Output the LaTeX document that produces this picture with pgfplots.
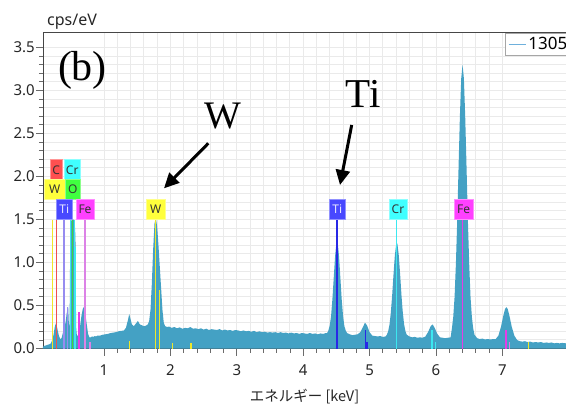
\documentclass[border=0pt]{standalone}
\usepackage{fontspec}
\setmainfont{Noto Sans}
\newfontfamily\serifann{Liberation Serif}
\newfontfamily\jp{Noto Sans CJK JP}
\usepackage{pgfplots}
\usepackage{pgfplotstable}
\pgfplotsset{compat=1.18}
\usetikzlibrary{arrows.meta}

\definecolor{spec}{RGB}{68,161,196}
\definecolor{legline}{RGB}{110,176,220}
\definecolor{gridc}{RGB}{234,234,234}
\definecolor{axc}{RGB}{70,70,70}
% marker lines
\definecolor{myel}{RGB}{240,232,40}
\definecolor{mred}{RGB}{240,80,80}
\definecolor{mlav}{RGB}{150,140,240}
\definecolor{mcyan}{RGB}{60,232,240}
\definecolor{mgreen}{RGB}{60,220,60}
\definecolor{mmag}{RGB}{230,60,230}
\definecolor{mpink}{RGB}{220,130,230}
\definecolor{mblue}{RGB}{40,40,230}
% label boxes
\definecolor{byel}{RGB}{255,255,60}
\definecolor{bred}{RGB}{255,80,80}
\definecolor{bcyan}{RGB}{64,255,255}
\definecolor{bgreen}{RGB}{64,255,64}
\definecolor{bblue}{RGB}{72,72,255}
\definecolor{bmag}{RGB}{255,64,255}

\pgfplotstableread{
E cps
0.08 0.02
0.10 0.03
0.12 0.035
0.14 0.04
0.16 0.045
0.18 0.05
0.20 0.06
0.22 0.10
0.24 0.16
0.26 0.26
0.28 0.30
0.30 0.22
0.32 0.15
0.34 0.11
0.36 0.12
0.38 0.18
0.40 0.24
0.42 0.30
0.44 0.42
0.46 0.49
0.47 0.30
0.48 0.25
0.485 0.60
0.49 1.20
0.50 1.45
0.51 1.50
0.52 1.52
0.53 1.50
0.54 1.50
0.55 1.48
0.56 1.45
0.57 1.30
0.575 0.70
0.58 0.25
0.59 0.16
0.60 0.14
0.62 0.18
0.64 0.26
0.66 0.38
0.68 0.46
0.70 0.49
0.72 0.40
0.74 0.28
0.76 0.17
0.78 0.13
0.80 0.13
0.82 0.14
0.84 0.135
0.86 0.145
0.88 0.14
0.90 0.15
0.94 0.15
0.98 0.16
1.02 0.165
1.06 0.17
1.10 0.18
1.14 0.185
1.18 0.19
1.22 0.20
1.26 0.205
1.30 0.21
1.33 0.24
1.36 0.33
1.38 0.40
1.40 0.34
1.42 0.28
1.45 0.26
1.48 0.29
1.51 0.32
1.54 0.28
1.57 0.27
1.60 0.26
1.63 0.265
1.66 0.28
1.68 0.32
1.70 0.45
1.72 0.75
1.74 1.15
1.76 1.45
1.78 1.52
1.80 1.42
1.82 1.20
1.84 0.95
1.86 0.70
1.88 0.45
1.90 0.30
1.92 0.26
1.95 0.25
1.98 0.255
2.02 0.24
2.06 0.25
2.10 0.235
2.14 0.245
2.18 0.23
2.22 0.24
2.26 0.235
2.30 0.25
2.34 0.23
2.38 0.235
2.42 0.225
2.46 0.235
2.50 0.22
2.54 0.23
2.58 0.215
2.62 0.225
2.66 0.22
2.70 0.215
2.74 0.225
2.78 0.21
2.82 0.22
2.86 0.21
2.90 0.215
2.94 0.205
2.98 0.215
3.02 0.21
3.06 0.20
3.10 0.21
3.14 0.20
3.18 0.205
3.22 0.195
3.26 0.205
3.30 0.19
3.34 0.20
3.38 0.19
3.42 0.195
3.46 0.185
3.50 0.19
3.54 0.185
3.58 0.19
3.62 0.18
3.66 0.19
3.70 0.18
3.74 0.185
3.78 0.175
3.82 0.185
3.86 0.175
3.90 0.18
3.94 0.17
3.98 0.18
4.02 0.175
4.06 0.17
4.10 0.18
4.14 0.17
4.18 0.175
4.22 0.165
4.26 0.175
4.30 0.17
4.34 0.18
4.36 0.18
4.38 0.21
4.40 0.27
4.42 0.38
4.44 0.575
4.46 0.825
4.48 1.07
4.50 1.23
4.51 1.25
4.52 1.23
4.54 1.07
4.56 0.82
4.58 0.57
4.60 0.38
4.62 0.26
4.64 0.21
4.66 0.18
4.70 0.165
4.74 0.155
4.78 0.16
4.82 0.165
4.86 0.19
4.90 0.25
4.93 0.30
4.96 0.27
5.00 0.19
5.04 0.15
5.08 0.145
5.12 0.14
5.16 0.145
5.20 0.135
5.24 0.14
5.26 0.16
5.28 0.20
5.30 0.28
5.32 0.42
5.34 0.62
5.36 0.86
5.38 1.08
5.40 1.21
5.41 1.23
5.42 1.21
5.44 1.08
5.46 0.86
5.48 0.62
5.50 0.42
5.52 0.28
5.54 0.20
5.56 0.16
5.60 0.14
5.64 0.13
5.68 0.135
5.72 0.125
5.76 0.13
5.80 0.125
5.84 0.14
5.88 0.19
5.92 0.26
5.95 0.28
5.98 0.24
6.02 0.17
6.06 0.13
6.10 0.125
6.14 0.12
6.18 0.125
6.22 0.13
6.24 0.235
6.26 0.37
6.28 0.60
6.30 0.99
6.32 1.50
6.34 2.11
6.36 2.70
6.38 3.14
6.40 3.30
6.42 3.14
6.44 2.70
6.46 2.11
6.48 1.50
6.50 0.99
6.52 0.60
6.54 0.37
6.56 0.235
6.58 0.16
6.62 0.12
6.66 0.11
6.70 0.115
6.74 0.105
6.78 0.11
6.82 0.105
6.86 0.11
6.90 0.11
6.94 0.15
6.98 0.255
7.00 0.33
7.02 0.40
7.04 0.46
7.06 0.48
7.08 0.46
7.10 0.40
7.12 0.33
7.14 0.255
7.18 0.15
7.22 0.10
7.26 0.085
7.30 0.08
7.34 0.085
7.38 0.075
7.42 0.08
7.46 0.07
7.50 0.075
7.54 0.07
7.58 0.075
7.62 0.065
7.66 0.07
7.70 0.065
7.74 0.07
7.78 0.06
7.82 0.065
7.86 0.06
7.90 0.065
7.96 0.06
}\spectrum

\begin{document}
\begin{tikzpicture}
  % page = 566 x 408 px, plot area from (43,32) to (566,348.5)
  \path[use as bounding box] (-43pt,-59.5pt) rectangle (523pt,348.5pt);
  \begin{axis}[
      scale only axis,
      width=523pt, height=316.5pt,
      xmin=0.081, xmax=7.958,
      ymin=0, ymax=3.68,
      axis x line=box, axis y line=left,
      axis line style={-, draw=axc, line width=0.8pt},
      tick pos=left,
      tick align=outside,
      xtick={1,...,7},
      ytick={0,0.5,...,3.5},
      minor tick num=4,
      major tick length=7pt, minor tick length=4pt,
      tick style={draw=axc!80, line width=0.8pt},
      grid=both,
      major grid style={draw=gridc, line width=0.9pt},
      minor grid style={draw=gridc, line width=0.9pt},
      /pgf/number format/assume math mode=true,
      ticklabel style={font=\fontsize{15}{18}\selectfont, text=black!85},
      xticklabel style={inner sep=1pt, yshift=-8pt},
      yticklabel style={inner sep=1pt, /pgf/number format/.cd, fixed, fixed zerofill, precision=1},
      xlabel={エネルギー [keV]},
      xlabel style={at={(axis description cs:0.5,0)}, anchor=center, yshift=-48.5pt,
        font=\jp\fontsize{14.5}{16}\selectfont, text=black!85},
      legend style={at={(0.8834,0.9968)}, anchor=north west, draw=gray!70, fill=white,
        font=\fontsize{17}{20}\selectfont, inner xsep=3pt, inner ysep=2pt,
        cells={anchor=west}},
      clip mode=individual,
    ]
    \addplot[fill=spec, draw=none,
      legend image code/.code={\draw[legline, line width=1.2pt] (0pt,0pt) -- (17pt,0pt);}]
      table[x=E, y=cps]{\spectrum} \closedcycle;
    \addlegendentry{1305\hspace*{10pt}}

    % element marker lines
    \addplot[ycomb, myel, line width=1.3pt, forget plot] coordinates {
      (0.221,1.49) (1.778,1.49) (1.833,0.68) (1.38,0.09) (2.035,0.06) (2.31,0.06) (7.39,0.08)};
    \addplot[ycomb, mred, line width=1.3pt, forget plot] coordinates {(0.282,1.49)};
    \addplot[ycomb, mlav, line width=1.3pt, forget plot] coordinates {(0.398,1.49) (0.453,0.48)};
    \addplot[ycomb, mcyan, line width=1.3pt, forget plot] coordinates {
      (0.50,1.49) (0.558,1.49) (0.573,1.18) (5.408,1.49) (5.94,0.22) (5.99,0.08)};
    \addplot[ycomb, mgreen, line width=1.3pt, forget plot] coordinates {(0.528,1.49)};
    \addplot[ycomb, mmag, line width=1.3pt, forget plot] coordinates {
      (0.624,0.42) (6.40,1.49) (7.054,0.22)};
    \addplot[ycomb, mpink, line width=1.3pt, forget plot] coordinates {(0.714,1.49) (0.79,0.07) (7.11,0.07)};
    \addplot[ycomb, mblue, line width=1.3pt, forget plot] coordinates {
      (4.51,1.49) (4.94,0.22) (4.96,0.08)};
  \end{axis}

  \begin{scope}[shift={(-43pt,348.5pt)},
      lab/.style={minimum height=20.5pt, inner sep=0pt, line width=0.8pt,
        font=\fontsize{12}{12}\selectfont, text=black!80}]
    % element labels
    \node[lab, fill=bred, draw=bred!60!white, minimum width=12.5pt] at (56.2pt,-170pt) {C};
    \node[lab, fill=bcyan, draw=bcyan!60!white, minimum width=16pt] at (72.2pt,-170pt) {Cr};
    \node[lab, fill=byel, draw=byel!60!white, minimum width=20.5pt] at (54.7pt,-189.5pt) {W};
    \node[lab, fill=bgreen, draw=bgreen!60!white, minimum width=15.7pt] at (72.8pt,-189.5pt) {O};
    \node[lab, fill=bblue, draw=bblue!60!white, minimum width=16.7pt, text=white!90!blue] at (64.3pt,-209.5pt) {Ti};
    \node[lab, fill=bmag, draw=bmag!60!white, minimum width=18pt] at (85pt,-209.5pt) {Fe};
    \node[lab, fill=byel, draw=byel!60!white, minimum width=18.3pt] at (155.8pt,-209.5pt) {W};
    \node[lab, fill=bblue, draw=bblue!60!white, minimum width=16.7pt, text=white!90!blue] at (337.3pt,-209.5pt) {Ti};
    \node[lab, fill=bcyan, draw=bcyan!60!white, minimum width=18pt] at (398pt,-209.5pt) {Cr};
    \node[lab, fill=bmag, draw=bmag!60!white, minimum width=19.3pt] at (463.7pt,-209.5pt) {Fe};

    % axis title
    \node[anchor=base west, font=\fontsize{16}{16}\selectfont, text=black!85, inner sep=0pt]
      at (47pt,-26pt) {cps/eV};

    % annotations
    \node[font=\serifann\fontsize{42}{42}\selectfont, inner sep=0pt] at (82.5pt,-70pt) {(b)};
    \node[font=\serifann\fontsize{39}{39}\selectfont, inner sep=0pt, anchor=base] at (223pt,-128pt) {W};
    \node[font=\serifann\fontsize{41}{41}\selectfont, inner sep=0pt, anchor=base] at (363.3pt,-107.7pt) {Ti};
    \draw[line width=3pt, -{Triangle[length=15pt,width=14pt]}] (208.3pt,-143.3pt) -- (164pt,-188.3pt);
    \draw[line width=3pt, -{Triangle[length=15pt,width=14pt]}] (351.7pt,-125pt) -- (340pt,-185pt);
  \end{scope}
\end{tikzpicture}
\end{document}
